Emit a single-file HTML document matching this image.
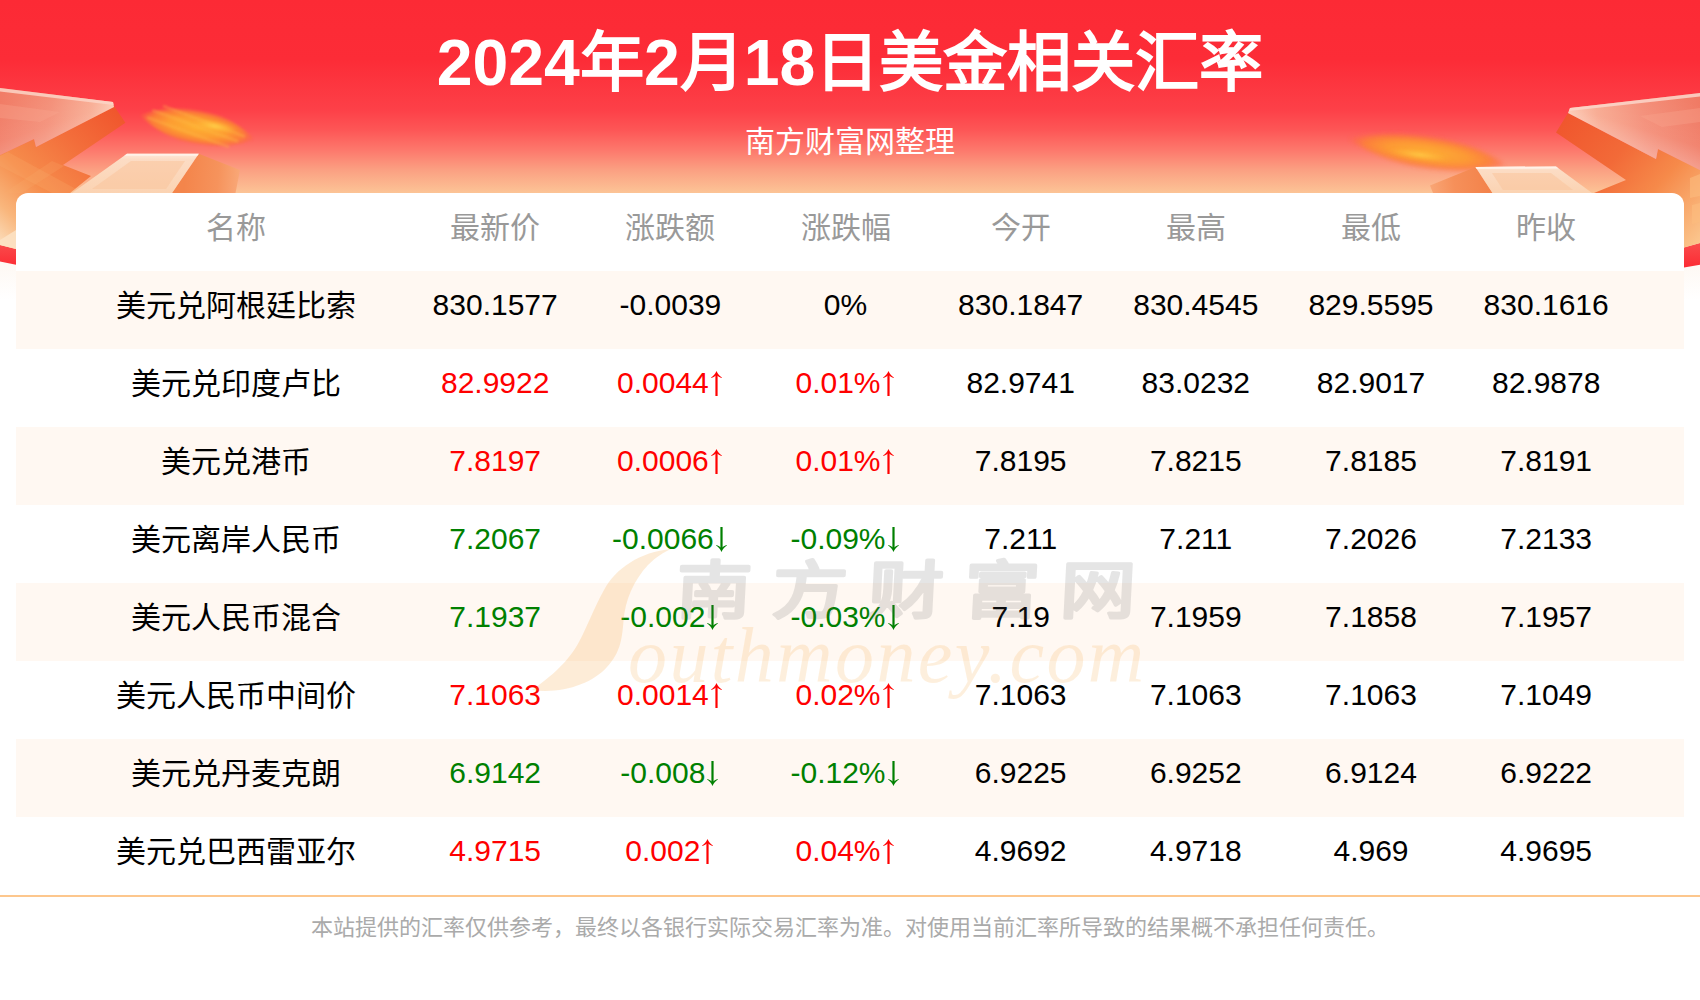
<!DOCTYPE html>
<html lang="zh-CN">
<head>
<meta charset="utf-8">
<title>2024年2月18日美金相关汇率</title>
<style>
*{margin:0;padding:0;box-sizing:border-box}
html,body{width:1700px;height:1000px;overflow:hidden;background:#fff}
body{font-family:"Liberation Sans",sans-serif;position:relative;color:#000}
#hdr{position:absolute;left:0;top:0;width:1700px;height:300px;overflow:hidden}
#hdr svg{position:absolute;left:0;top:0}
h1{position:absolute;left:0;top:25px;width:1700px;text-align:center;font-size:64.35px;line-height:76px;font-weight:bold;color:#fff;white-space:nowrap}
.sub{position:absolute;left:0;top:123px;width:1700px;text-align:center;font-size:30px;line-height:38px;color:#fff;white-space:nowrap}
#card{position:absolute;left:16px;top:193px;width:1668px;height:702px;background:#fff;border-radius:12px 12px 0 0;overflow:hidden}
.row{position:absolute;left:0;width:1668px;height:78px;font-size:30px;line-height:78px;white-space:nowrap}
.row.alt{background:#fff8f2}
.row span{position:absolute;top:-5.5px;height:78px;text-align:center;width:175px}
.row span.n{left:.4px;width:440px;top:-4.5px}
.c1{left:391.7px}.c2{left:566.9px}.c3{left:742px}.c4{left:917.2px}.c5{left:1092.3px}.c6{left:1267.5px}.c7{left:1442.7px}
.head{color:#999}.head span{top:-4.5px}
.r{color:#f00}.g{color:#008000}
.ar{display:inline-block;width:15px;height:25px;vertical-align:-3.2px;fill:currentColor}
#wm{position:absolute;left:0;top:0;width:1700px;height:1000px;pointer-events:none}
#line{position:absolute;left:0;top:895px;width:1700px;height:2px;background:#fdc78d}
#foot{position:absolute;left:0;top:912px;width:1700px;text-align:center;font-size:22px;line-height:32px;color:#aaa;white-space:nowrap}
</style>
</head>
<body>
<svg width="0" height="0" style="position:absolute">
<defs>
<symbol id="au" viewBox="0 0 15 25"><path d="M7.5 0C8.6 2.8 10.6 5.2 12.9 6.5L12.6 7.1C10.9 6.7 9.6 5.9 8.6 4.6V25H6.4V4.6C5.4 5.9 4.1 6.7 2.4 7.1L2.1 6.5C4.4 5.2 6.4 2.8 7.5 0Z"/></symbol>
<symbol id="ad" viewBox="0 0 15 25"><path d="M7.5 25C8.6 22.2 10.6 19.8 12.9 18.5L12.6 17.9C10.9 18.3 9.6 19.1 8.6 20.4V0H6.4V20.4C5.4 19.1 4.1 18.3 2.4 17.9L2.1 18.5C4.4 19.8 6.4 22.2 7.5 25Z"/></symbol>
</defs>
</svg>
<div id="hdr">
<!--HS--><svg width="1700" height="300" viewBox="0 0 1700 300">
<defs>
<linearGradient id="bg" gradientUnits="userSpaceOnUse" x1="0" y1="0" x2="0" y2="250">
<stop offset="0" stop-color="#fc2a35"/>
<stop offset="0.24" stop-color="#fc2c37"/>
<stop offset="0.44" stop-color="#fd4048"/>
<stop offset="0.52" stop-color="#fd5656"/>
<stop offset="0.60" stop-color="#fd786c"/>
<stop offset="0.68" stop-color="#fba082"/>
<stop offset="0.772" stop-color="#fcc496"/>
<stop offset="1" stop-color="#fde2c4"/>
</linearGradient>
<linearGradient id="red2" gradientUnits="userSpaceOnUse" x1="0" y1="240" x2="0" y2="268">
<stop offset="0" stop-color="#f9504f"/><stop offset="1" stop-color="#fc2a33"/>
</linearGradient>
<linearGradient id="pg" gradientUnits="userSpaceOnUse" x1="0" y1="262" x2="0" y2="300">
<stop offset="0" stop-color="#fef8f3"/><stop offset="1" stop-color="#ffffff"/>
</linearGradient>
<clipPath id="arc"><path d="M0 0H1700V243L1684 247.5Q850 262 16 249L0 245Z"/></clipPath>
<!-- left arrow -->
<linearGradient id="ls" gradientUnits="userSpaceOnUse" x1="118" y1="112" x2="0" y2="240">
<stop offset="0" stop-color="#f0562d"/><stop offset="0.3" stop-color="#f36e3b"/><stop offset="0.62" stop-color="#f68d4c"/><stop offset="0.85" stop-color="#f9b67c"/><stop offset="1" stop-color="#fbd9b4"/>
</linearGradient>
<linearGradient id="lt" gradientUnits="userSpaceOnUse" x1="0" y1="100" x2="112" y2="120">
<stop offset="0" stop-color="#f17c66"/><stop offset="0.45" stop-color="#f48f78"/><stop offset="0.8" stop-color="#f8ab92"/><stop offset="1" stop-color="#fcc8b2"/>
</linearGradient>
<linearGradient id="lt2" gradientUnits="userSpaceOnUse" x1="30" y1="95" x2="48" y2="150">
<stop offset="0" stop-color="#ffffff" stop-opacity="0"/><stop offset="0.6" stop-color="#ffffff" stop-opacity="0.06"/><stop offset="1" stop-color="#ffffff" stop-opacity="0.2"/>
</linearGradient>
<!-- right arrow -->
<linearGradient id="rs" gradientUnits="userSpaceOnUse" x1="1562" y1="120" x2="1700" y2="245">
<stop offset="0" stop-color="#f0562d"/><stop offset="0.35" stop-color="#f26a38"/><stop offset="0.62" stop-color="#f68a4a"/><stop offset="0.85" stop-color="#f9b074"/><stop offset="1" stop-color="#fbc890"/>
</linearGradient>
<linearGradient id="rt" gradientUnits="userSpaceOnUse" x1="1700" y1="100" x2="1572" y2="120">
<stop offset="0" stop-color="#f07a64"/><stop offset="0.45" stop-color="#f48e78"/><stop offset="0.8" stop-color="#f8a88f"/><stop offset="1" stop-color="#fcc6b0"/>
</linearGradient>
<linearGradient id="rt2" gradientUnits="userSpaceOnUse" x1="1670" y1="95" x2="1650" y2="160">
<stop offset="0" stop-color="#ffffff" stop-opacity="0"/><stop offset="0.6" stop-color="#ffffff" stop-opacity="0.06"/><stop offset="1" stop-color="#ffffff" stop-opacity="0.3"/>
</linearGradient>
<!-- boxes -->
<linearGradient id="bt" x1="0" y1="0" x2="0" y2="1">
<stop offset="0" stop-color="#fee9da"/><stop offset="0.15" stop-color="#fcdcc4"/><stop offset="1" stop-color="#fbd3b2"/>
</linearGradient>
<linearGradient id="lbs" gradientUnits="userSpaceOnUse" x1="185" y1="175" x2="240" y2="180">
<stop offset="0" stop-color="#f4854b"/><stop offset="0.6" stop-color="#f6935c"/><stop offset="1" stop-color="#f9a878"/>
</linearGradient>
<linearGradient id="rbs" gradientUnits="userSpaceOnUse" x1="1490" y1="180" x2="1430" y2="188">
<stop offset="0" stop-color="#f3824a"/><stop offset="0.6" stop-color="#f6905a"/><stop offset="1" stop-color="#f9a676"/>
</linearGradient>
<radialGradient id="gl" cx="0.5" cy="0.5" r="0.5">
<stop offset="0" stop-color="#feb034"/><stop offset="0.5" stop-color="#fd9c30"/><stop offset="0.78" stop-color="#fc8236" stop-opacity="0.9"/><stop offset="0.92" stop-color="#fc6c3e" stop-opacity="0.5"/><stop offset="1" stop-color="#fd6040" stop-opacity="0"/>
</radialGradient>
<radialGradient id="gl2" cx="0.5" cy="0.5" r="0.5">
<stop offset="0" stop-color="#ffd24a" stop-opacity="0.95"/><stop offset="0.6" stop-color="#ffb838" stop-opacity="0.5"/><stop offset="1" stop-color="#ffa030" stop-opacity="0"/>
</radialGradient>
<filter id="b2" x="-20%" y="-40%" width="140%" height="180%"><feGaussianBlur stdDeviation="2.2"/></filter>
<filter id="b1" x="-20%" y="-40%" width="140%" height="180%"><feGaussianBlur stdDeviation="1.2"/></filter>
</defs>
<rect x="0" y="255" width="1700" height="45" fill="url(#pg)"/>
<path d="M0 0H1700V264.7L1684 267.5Q850 282 16 264.7L0 261.4Z" fill="url(#red2)"/>
<g clip-path="url(#arc)">
<rect x="0" y="0" width="1700" height="270" fill="url(#bg)"/>
<!-- LEFT glow -->
<g transform="rotate(10 196 127)">
<path d="M138 125Q168 108 200 109.5Q232 111 256 129Q228 146 196 144.5Q164 143 138 125Z" fill="url(#gl)" filter="url(#b1)"/><path d="M150 118L240 134M160 112L246 128M146 126L232 141" stroke="#ffc04a" stroke-width="2.5" opacity="0.35" filter="url(#b1)" fill="none"/>
<ellipse cx="214" cy="123" rx="24" ry="6" fill="url(#gl2)" filter="url(#b1)"/>
</g>
<!-- LEFT arrow -->
<path d="M114 106L125.4 122.8L63 165L91 176L70 193L40 250H0V155L34 139L36 147Z" fill="url(#ls)"/>
<path d="M0 156L8 152L76 189L70 193H52L0 166Z" fill="#fbb070" opacity="0.22"/>
<path d="M52 161L64 166L22 193H4Z" fill="#fbb070" opacity="0.2"/>
<path d="M0 240L16 230V249L0 245Z" fill="#fce3c6" opacity="0.85"/>
<path d="M0 88L113 102L114 107L36 147L34 139L0 155Z" fill="url(#lt)"/>
<path d="M0 88L113 102L114 107L36 147L34 139L0 155Z" fill="url(#lt2)"/>
<path d="M0 104L60 112L40 122L0 118Z" fill="#f9a58f" opacity="0.35"/>
<path d="M0 88L113 102L113.6 105L0 91.5Z" fill="#fcd3c6" opacity="0.85"/>
<!-- LEFT box -->
<path d="M198.8 153.8L240 170L235.5 193H172Z" fill="url(#lbs)"/>
<path d="M127 153.8H198.8L172 193H72Z" fill="url(#bt)"/>
<path d="M131 161H185L166 189H92Z" fill="#f9c59c" opacity="0.55"/>
<path d="M127 153.8H198.8L197.4 155.8H124.2Z" fill="#fff3ea" opacity="0.9"/>
<!-- RIGHT glow -->
<g transform="rotate(8 1428 152)">
<path d="M1346 150Q1390 134 1432 136Q1476 138 1508 154Q1470 170 1426 169Q1384 167 1346 150Z" fill="url(#gl)" filter="url(#b2)" opacity="0.95"/>
<ellipse cx="1420" cy="156" rx="34" ry="6" fill="url(#gl2)" filter="url(#b1)" opacity="0.8"/>
</g>
<!-- RIGHT arrow -->
<path d="M1568 113L1556 132.5L1626 180L1594 193V250H1700V170L1658 149L1656 159Z" fill="url(#rs)"/>
<path d="M1690 178L1700 174V196L1690 198Z" fill="#fbbd7e" opacity="0.6"/>
<path d="M1692 205L1700 203V222L1692 224Z" fill="#fbbd7e" opacity="0.6"/>
<path d="M1570 108L1700 93V170L1658 149L1656 159L1568 113Z" fill="url(#rt)"/>
<path d="M1570 108L1700 93V170L1658 149L1656 159L1568 113Z" fill="url(#rt2)"/>
<path d="M1700 108L1640 116L1662 127L1700 122Z" fill="#f9a58f" opacity="0.35"/>
<path d="M1570 108L1700 93V96.5L1569 111Z" fill="#fcd6ca" opacity="0.85"/>
<!-- RIGHT box -->
<path d="M1475.5 167L1430 185.4L1433 193H1492.5Z" fill="url(#rbs)"/>
<path d="M1475.5 167L1556 166.4L1592 193H1492.5Z" fill="url(#bt)"/>
<path d="M1492 173H1551L1573 190H1503Z" fill="#f9c59c" opacity="0.55"/>
<path d="M1475.5 167L1556 166.4L1558.6 168.4L1476.6 169Z" fill="#fff3ea" opacity="0.9"/>
</g>
</svg><!--HE-->
</div>
<h1>2024年2月18日美金相关汇率</h1>
<div class="sub">南方财富网整理</div>
<div id="card">
<div class="row head" style="top:0"><span class="n">名称</span><span class="c1">最新价</span><span class="c2">涨跌额</span><span class="c3">涨跌幅</span><span class="c4">今开</span><span class="c5">最高</span><span class="c6">最低</span><span class="c7">昨收</span></div>
<div class="row alt" style="top:78px"><span class="n">美元兑阿根廷比索</span><span class="c1">830.1577</span><span class="c2">-0.0039</span><span class="c3">0%</span><span class="c4">830.1847</span><span class="c5">830.4545</span><span class="c6">829.5595</span><span class="c7">830.1616</span></div>
<div class="row" style="top:156px"><span class="n">美元兑印度卢比</span><span class="c1 r">82.9922</span><span class="c2 r">0.0044<svg class="ar" viewBox="0 0 15 25" role="img" aria-label="↑"><use href="#au"/></svg></span><span class="c3 r">0.01%<svg class="ar" viewBox="0 0 15 25" role="img" aria-label="↑"><use href="#au"/></svg></span><span class="c4">82.9741</span><span class="c5">83.0232</span><span class="c6">82.9017</span><span class="c7">82.9878</span></div>
<div class="row alt" style="top:234px"><span class="n">美元兑港币</span><span class="c1 r">7.8197</span><span class="c2 r">0.0006<svg class="ar" viewBox="0 0 15 25" role="img" aria-label="↑"><use href="#au"/></svg></span><span class="c3 r">0.01%<svg class="ar" viewBox="0 0 15 25" role="img" aria-label="↑"><use href="#au"/></svg></span><span class="c4">7.8195</span><span class="c5">7.8215</span><span class="c6">7.8185</span><span class="c7">7.8191</span></div>
<div class="row" style="top:312px"><span class="n">美元离岸人民币</span><span class="c1 g">7.2067</span><span class="c2 g">-0.0066<svg class="ar" viewBox="0 0 15 25" role="img" aria-label="↓"><use href="#ad"/></svg></span><span class="c3 g">-0.09%<svg class="ar" viewBox="0 0 15 25" role="img" aria-label="↓"><use href="#ad"/></svg></span><span class="c4">7.211</span><span class="c5">7.211</span><span class="c6">7.2026</span><span class="c7">7.2133</span></div>
<div class="row alt" style="top:390px"><span class="n">美元人民币混合</span><span class="c1 g">7.1937</span><span class="c2 g">-0.002<svg class="ar" viewBox="0 0 15 25" role="img" aria-label="↓"><use href="#ad"/></svg></span><span class="c3 g">-0.03%<svg class="ar" viewBox="0 0 15 25" role="img" aria-label="↓"><use href="#ad"/></svg></span><span class="c4">7.19</span><span class="c5">7.1959</span><span class="c6">7.1858</span><span class="c7">7.1957</span></div>
<div class="row" style="top:468px"><span class="n">美元人民币中间价</span><span class="c1 r">7.1063</span><span class="c2 r">0.0014<svg class="ar" viewBox="0 0 15 25" role="img" aria-label="↑"><use href="#au"/></svg></span><span class="c3 r">0.02%<svg class="ar" viewBox="0 0 15 25" role="img" aria-label="↑"><use href="#au"/></svg></span><span class="c4">7.1063</span><span class="c5">7.1063</span><span class="c6">7.1063</span><span class="c7">7.1049</span></div>
<div class="row alt" style="top:546px"><span class="n">美元兑丹麦克朗</span><span class="c1 g">6.9142</span><span class="c2 g">-0.008<svg class="ar" viewBox="0 0 15 25" role="img" aria-label="↓"><use href="#ad"/></svg></span><span class="c3 g">-0.12%<svg class="ar" viewBox="0 0 15 25" role="img" aria-label="↓"><use href="#ad"/></svg></span><span class="c4">6.9225</span><span class="c5">6.9252</span><span class="c6">6.9124</span><span class="c7">6.9222</span></div>
<div class="row" style="top:624px"><span class="n">美元兑巴西雷亚尔</span><span class="c1 r">4.9715</span><span class="c2 r">0.002<svg class="ar" viewBox="0 0 15 25" role="img" aria-label="↑"><use href="#au"/></svg></span><span class="c3 r">0.04%<svg class="ar" viewBox="0 0 15 25" role="img" aria-label="↑"><use href="#au"/></svg></span><span class="c4">4.9692</span><span class="c5">4.9718</span><span class="c6">4.969</span><span class="c7">4.9695</span></div>
</div>
<!--WS--><svg id="wm" width="1700" height="1000" viewBox="0 0 1700 1000">
<path d="M671 549C640 552 616 568 604 590C593 610 587 627 580 640C572 656 558 672 532 690C562 694 592 684 607 667C620 653 622 640 623.5 621C625 600 634 580 648 565C656 557 664 552 671 549Z" fill="#f6a235" opacity="0.2"/>
<text x="628" y="682" font-family="'Liberation Serif',serif" font-style="italic" font-size="78" letter-spacing="2.4" fill="#f6a235" opacity="0.16">outhmoney.com</text>
<g transform="translate(675 613) skewX(-3) scale(1.08 0.9)"><text x="0" y="0" font-family="'Liberation Sans',sans-serif" font-weight="bold" font-size="70" letter-spacing="18.6" fill="#555" stroke="#555" stroke-width="1.6" stroke-linejoin="round" opacity="0.145">南方财富网</text></g>
</svg><!--WE-->
<div id="line"></div>
<div id="foot">本站提供的汇率仅供参考，最终以各银行实际交易汇率为准。对使用当前汇率所导致的结果概不承担任何责任。</div>
</body>
</html>
